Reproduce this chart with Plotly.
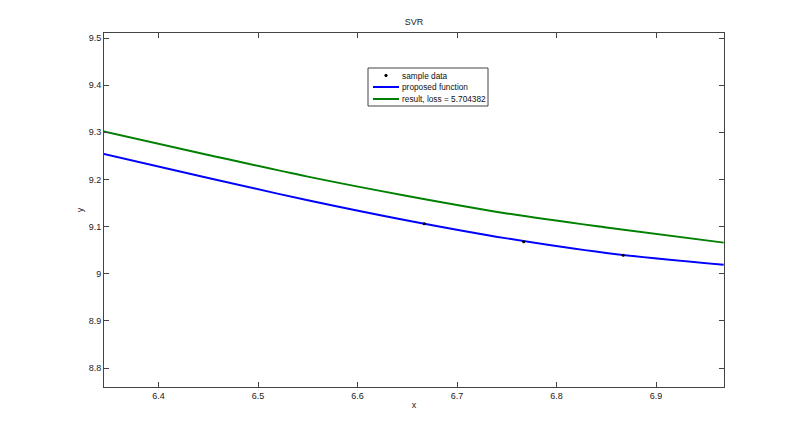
import plotly.graph_objects as go

# proposed function (blue)
x_prop = [6.345, 6.45, 6.55, 6.65, 6.75, 6.85, 6.968]
y_prop = [9.254, 9.203, 9.156, 9.113, 9.075, 9.044, 9.019]

# result (green)
x_res = [6.345, 6.45, 6.55, 6.65, 6.75, 6.85, 6.968]
y_res = [9.302, 9.252, 9.206, 9.165, 9.128, 9.098, 9.066]

# sample data points
x_samp = [6.667, 6.767, 6.867]
y_samp = [9.106, 9.068, 9.039]

x_ticks = [6.4, 6.5, 6.6, 6.7, 6.8, 6.9]
y_ticks = [8.8, 8.9, 9.0, 9.1, 9.2, 9.3, 9.4, 9.5]
y_labels = ["8.8", "8.9", "9", "9.1", "9.2", "9.3", "9.4", "9.5"]

legend_names = ["sample data", "proposed function", "result, loss = 5.704382"]
colors = ["black", "#0000ff", "#008000"]

FAM = "Liberation Sans, Arial, sans-serif"
font = dict(family=FAM, size=9, color="#222222")

# plot area geometry (in figure pixels)
L, R, T, B, W, H = 96, 84, 25, 56, 800, 435
PW, PH = W - L - R, H - T - B


def px(X):
    return (X - L) / PW


def py(Y):
    return 1 - (Y - T) / PH


fig = go.Figure()
fig.add_trace(go.Scatter(x=x_prop, y=y_prop, mode="lines", name=legend_names[1],
                         line=dict(color=colors[1], width=2, shape="spline", smoothing=1.0)))
fig.add_trace(go.Scatter(x=x_res, y=y_res, mode="lines", name=legend_names[2],
                         line=dict(color=colors[2], width=2, shape="spline", smoothing=1.0)))
fig.add_trace(go.Scatter(x=x_samp, y=y_samp, mode="markers", name=legend_names[0],
                         marker=dict(color="black", size=3, symbol="circle")))

axis_common = dict(showgrid=False, zeroline=False, showline=True, linecolor="#444444",
                   linewidth=1, mirror="ticks", ticks="inside", ticklen=5,
                   tickcolor="#444444", tickfont=font)

# manual legend box (MATLAB style)
shapes = [dict(type="rect", xref="paper", yref="paper",
               x0=px(360), x1=px(480), y0=py(98), y1=py(60),
               line=dict(color="#444444", width=1), fillcolor="white", layer="above")]
annotations = []
rows = [67.5, 79, 91]
for i, (name, c) in enumerate(zip(legend_names, colors)):
    yy = py(rows[i])
    if i == 0:
        shapes.append(dict(type="circle", xref="paper", yref="paper",
                           x0=px(376.8), x1=px(379.2), y0=py(rows[i] + 1.2), y1=py(rows[i] - 1.2),
                           line=dict(color="black", width=1), fillcolor="black", layer="above"))
    else:
        shapes.append(dict(type="line", xref="paper", yref="paper",
                           x0=px(365), x1=px(391), y0=yy, y1=yy,
                           line=dict(color=c, width=2), layer="above"))
    annotations.append(dict(text=name, xref="paper", yref="paper", x=px(392), y=yy,
                            xanchor="left", yanchor="middle", showarrow=False,
                            font=dict(family=FAM, size=8.3, color="#111111")))

fig.update_layout(
    width=W, height=H,
    paper_bgcolor="white", plot_bgcolor="white",
    margin=dict(l=L, r=R, t=T, b=B),
    title=dict(text="SVR", x=px(L + PW / 2), xref="paper", xanchor="center",
               y=1 - 14 / H, yanchor="middle", font=font),
    xaxis=dict(range=[6.3452, 6.9683], tickvals=x_ticks,
               ticktext=[str(v) for v in x_ticks],
               title=dict(text="x", font=font, standoff=1), **axis_common),
    yaxis=dict(range=[8.7597, 9.5107], tickvals=y_ticks, ticktext=y_labels,
               title=dict(text="y", font=font, standoff=3), **axis_common),
    shapes=shapes,
    annotations=annotations,
    showlegend=False,
)

fig.write_html("out.html")
